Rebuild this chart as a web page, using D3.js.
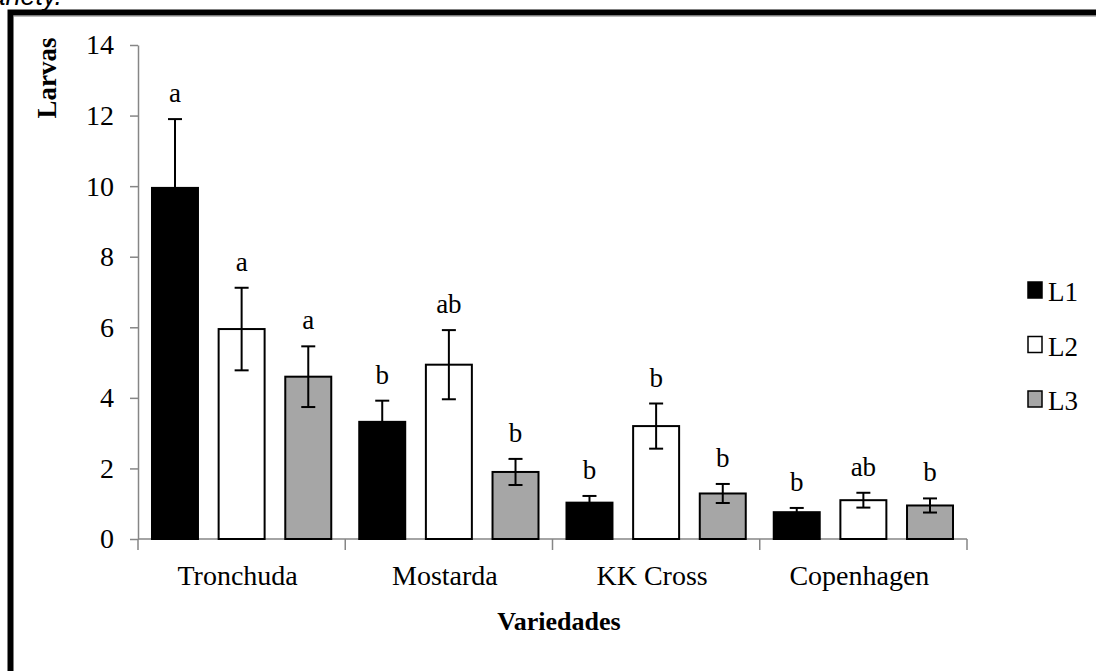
<!DOCTYPE html>
<html>
<head>
<meta charset="utf-8">
<script src="https://cdn.jsdelivr.net/npm/d3@7"></script>
<style>
  body { margin: 0; background: #fff; overflow: hidden; }
  svg { display: block; }
  text { font-family: "Liberation Serif", "Times New Roman", serif; fill: #000; }
</style>
</head>
<body>
<svg></svg>
<script>
const varieties = ["Tronchuda", "Mostarda", "KK Cross", "Copenhagen"];
const series = ["L1", "L2", "L3"];

// mean larvae per variety, one array per series
const l1 = [9.95, 3.32, 1.03, 0.76];
const l2 = [5.95, 4.94, 3.2, 1.1];
const l3 = [4.6, 1.9, 1.29, 0.95];

// standard errors
const se1 = [1.95, 0.6, 0.19, 0.12];
const se2 = [1.17, 0.98, 0.64, 0.21];
const se3 = [0.86, 0.37, 0.27, 0.2];

// significance letters
const let1 = ["a", "b", "b", "b"];
const let2 = ["a", "ab", "b", "ab"];
const let3 = ["a", "b", "b", "b"];

const yTicks = [0, 2, 4, 6, 8, 10, 12, 14];

const fills = {L1: "#000", L2: "#fff", L3: "#a6a6a6"};
const axisGray = "#868686";

const W = 1096, H = 671;
const svg = d3.select("svg").attr("width", W).attr("height", H);

// table built from the arrays
const vals = [l1, l2, l3], ses = [se1, se2, se3], lets = [let1, let2, let3];
const rows = [];
varieties.forEach((v, i) => {
  series.forEach((s, j) => {
    rows.push({variety: v, series: s, value: vals[j][i], se: ses[j][i], letter: lets[j][i]});
  });
});

// page bits: cut-off caption and the thick frame
svg.append("text")
  .attr("x", 62).attr("y", 5)
  .attr("text-anchor", "end")
  .style("font-family", "'Liberation Sans', Arial, sans-serif")
  .style("font-style", "italic")
  .style("font-size", "27px")
  .text("per variety.");

svg.append("rect")
  .attr("x", 10.5).attr("y", 12.5)
  .attr("width", W + 20).attr("height", H + 20)
  .attr("fill", "none").attr("stroke", "#000").attr("stroke-width", 6);
svg.append("line")
  .attr("x1", 13).attr("x2", W).attr("y1", 16).attr("y2", 16)
  .attr("stroke", "#777").attr("stroke-width", 1);

const x = d3.scaleBand().domain(varieties).range([138, 967]).padding(0);
const xi = d3.scaleBand().domain(series).range([0, x.bandwidth()])
  .paddingInner(0.31).paddingOuter(0.21);
const y = d3.scaleLinear().domain([0, 14]).range([539, 45]);

// y axis
const yAxis = svg.append("g")
  .attr("transform", `translate(${x.range()[0]},0)`)
  .call(d3.axisLeft(y).tickValues(yTicks).tickSize(8).tickPadding(16).tickSizeOuter(0));
yAxis.select(".domain").attr("stroke", axisGray).attr("stroke-width", 1.5);
yAxis.selectAll(".tick line").attr("stroke", axisGray).attr("stroke-width", 1.5);
yAxis.selectAll(".tick text")
  .style("font-family", "'Liberation Serif', serif")
  .style("font-size", "28px");

// x axis: line with ticks at the category boundaries
const bounds = varieties.map(v => x(v)).concat([x.range()[1]]);
const xg = svg.append("g");
xg.append("line")
  .attr("x1", x.range()[0]).attr("x2", x.range()[1])
  .attr("y1", y(0)).attr("y2", y(0))
  .attr("stroke", axisGray).attr("stroke-width", 1.5);
xg.selectAll("line.bt").data(bounds).join("line")
  .attr("class", "bt")
  .attr("x1", d => d).attr("x2", d => d)
  .attr("y1", y(0)).attr("y2", y(0) + 11)
  .attr("stroke", axisGray).attr("stroke-width", 1.5);
xg.selectAll("text.cat").data(varieties).join("text")
  .attr("class", "cat")
  .attr("x", d => x(d) + x.bandwidth() / 2 - 4)
  .attr("y", 585)
  .attr("text-anchor", "middle")
  .style("font-size", "28px")
  .text(d => d);

// bars
const bx = d => x(d.variety) + xi(d.series);
svg.append("g").selectAll("rect").data(rows).join("rect")
  .attr("x", bx)
  .attr("y", d => y(d.value))
  .attr("width", xi.bandwidth())
  .attr("height", d => y(0) - y(d.value))
  .attr("fill", d => fills[d.series])
  .attr("stroke", "#000")
  .attr("stroke-width", 2);

// error bars
const cap = 7;
const eb = svg.append("g").attr("stroke", "#000").attr("stroke-width", 2);
rows.forEach(d => {
  const cx = bx(d) + xi.bandwidth() / 2;
  const top = y(d.value + d.se), bot = y(Math.max(0, d.value - d.se));
  eb.append("line").attr("x1", cx).attr("x2", cx).attr("y1", top).attr("y2", bot);
  eb.append("line").attr("x1", cx - cap).attr("x2", cx + cap).attr("y1", top).attr("y2", top);
  eb.append("line").attr("x1", cx - cap).attr("x2", cx + cap).attr("y1", bot).attr("y2", bot);
});

// letters
svg.append("g").selectAll("text").data(rows).join("text")
  .attr("x", d => bx(d) + xi.bandwidth() / 2)
  .attr("y", d => y(d.value + d.se) - 17)
  .attr("text-anchor", "middle")
  .style("font-size", "27px")
  .text(d => d.letter);

// axis titles
svg.append("text")
  .attr("transform", "translate(56,78) rotate(-90)")
  .attr("text-anchor", "middle")
  .style("font-size", "27px").style("font-weight", "bold")
  .text("Larvas");
svg.append("text")
  .attr("x", 559).attr("y", 630)
  .attr("text-anchor", "middle")
  .style("font-size", "26px").style("font-weight", "bold")
  .text("Variedades");

// legend
const lg = svg.append("g").selectAll("g").data(series).join("g")
  .attr("transform", (d, i) => `translate(1028,${282 + i * 54.5})`);
lg.append("rect")
  .attr("width", 14).attr("height", 16)
  .attr("fill", d => fills[d]).attr("stroke", "#000").attr("stroke-width", 1.5);
lg.append("text")
  .attr("x", 20).attr("y", 19)
  .style("font-size", "27px")
  .text(d => d);
</script>
</body>
</html>
